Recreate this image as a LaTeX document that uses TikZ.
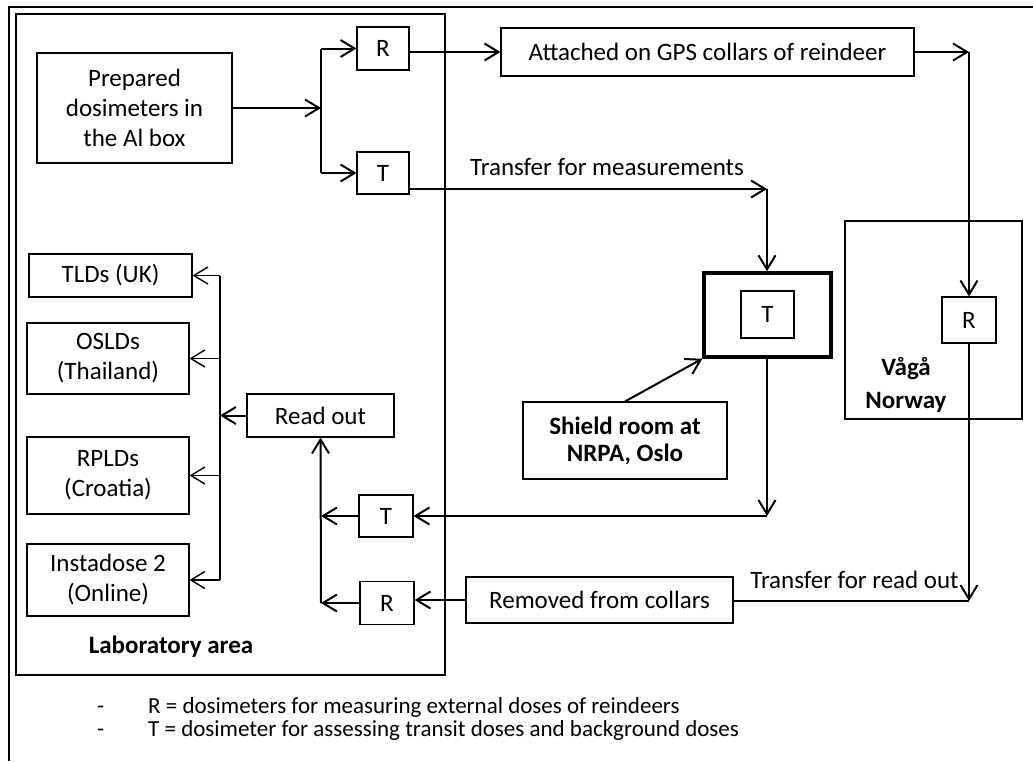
\documentclass[tikz,border=0pt]{standalone}
\usepackage{fontspec}
\setmainfont{Carlito}
\usetikzlibrary{arrows.meta}
\begin{document}
\begin{tikzpicture}[x=1pt,y=-1pt,
  font=\fontsize{25}{30}\selectfont,
  bx/.style={draw, line width=1.1pt, inner sep=0pt, align=center},
  frame/.style={line width=2pt},
  conn/.style={line width=2pt},
  thinconn/.style={line width=1.4pt},
  arr/.style={conn, -{Straight Barb[length=14pt,width=17pt]}},
  arrthin/.style={thinconn, -{Straight Barb[length=14pt,width=17pt]}},
  lbl/.style={inner sep=0pt, align=center},
  legend/.style={inner sep=0pt, anchor=base west, font=\fontsize{23}{27}\selectfont}
]
\useasboundingbox (0,0) rectangle (1033,761);
% outer frame
\draw[frame] (1033,7) -- (9,7) -- (9,761);
% laboratory area
\node[draw, frame, minimum width=429pt, minimum height=661pt, inner sep=0pt] (lab) at (230.5,344.5) {};
\node[lbl, font=\fontsize{25}{30}\selectfont\bfseries] (labtxt) at (171,647) {Laboratory area};
% Norway area
\node[draw, frame, minimum width=177pt, minimum height=198pt, inner sep=0pt] (norway) at (933.5,320) {};
\node[lbl, font=\fontsize{25}{33}\selectfont\bfseries] (norwaytxt) at (906,385) {Vågå\\Norway};
% nodes
\node[bx, minimum width=195pt, minimum height=110pt] (prep) at (134.5,108) {Prepared\\dosimeters in\\the Al box};
\node[bx, minimum width=52pt, minimum height=43pt] (R1) at (383,48.5) {R};
\node[bx, minimum width=52pt, minimum height=42pt] (T1) at (383,173) {T};
\node[bx, minimum width=413pt, minimum height=48pt] (att) at (707.5,52) {Attached on GPS collars of reindeer};
\node[draw, line width=3.5pt, minimum width=127pt, minimum height=84pt, inner sep=0pt] (shield) at (767.5,315) {};
\node[bx, minimum width=53pt, minimum height=47pt] (T2) at (767.5,314.5) {T};
\node[bx, minimum width=204pt, minimum height=77pt, font=\fontsize{25}{27}\selectfont\bfseries] (shieldlbl) at (625,440.5) {Shield room at\\NRPA, Oslo};
\node[bx, minimum width=54pt, minimum height=46pt] (R2) at (969,320) {R};
\node[bx, minimum width=163pt, minimum height=43pt] (tld) at (110.5,275.5) {TLDs (UK)};
\node[bx, minimum width=162pt, minimum height=71pt] (osld) at (108,358.5) {OSLDs\\(Thailand)};
\node[bx, minimum width=162pt, minimum height=77pt] (rpld) at (108,475.5) {RPLDs\\(Croatia)};
\node[bx, minimum width=162pt, minimum height=72pt] (insta) at (108,580) {Instadose 2\\(Online)};
\node[bx, minimum width=147pt, minimum height=43pt] (readout) at (320.5,415.5) {Read out};
\node[bx, minimum width=54pt, minimum height=42pt] (T3) at (386,516) {T};
\node[bx, minimum width=54pt, minimum height=43pt] (R3) at (387,603) {R};
\node[bx, minimum width=267pt, minimum height=46pt] (rem) at (599.5,600) {Removed from collars};
% coordinates
\coordinate (J) at (321,108);
\coordinate (C1) at (767,189);
\coordinate (C2) at (767,516);
\coordinate (C3) at (969,52);
\coordinate (C4) at (969,601);
\coordinate (Vb) at (321,603);
\coordinate (L) at (220,415.5);
% connectors top
\draw[arr] (prep.east) -- (J);
\draw[conn] (J |- R1.west) -- (J |- T1.west);
\draw[arr] (J |- R1.west) -- (R1.west);
\draw[arr] (J |- T1.west) -- (T1.west);
\draw[arr] (R1.east |- att.west) -- (att.west);
\draw[arr] (att.east) -- (C3);
\draw[arr] (C3) -- (R2.north);
\draw[arr] (T1.east |- C1) -- (C1);
\node[lbl] (tmeas) at (607,167) {Transfer for measurements};
\draw[arr] (C1) -- (C1 |- shield.north);
\draw[arr] (shieldlbl.north) -- (shield.south west);
\draw[arr] (shield.south -| C2) -- (C2);
\draw[arr] (C2) -- (T3.east |- C2);
\draw[arr] (R2.south) -- (C4);
\draw[conn] (C4) -- (rem.east |- C4);
\node[lbl] (tread) at (854.5,580) {Transfer for read out};
\draw[arr] (rem.west) -- (R3.east |- rem.west);
\draw[arr] (R3.west) -- (Vb);
\draw[arr] (T3.west) -- (Vb |- T3.west);
\draw[arr] (Vb) -- (readout.south);
% read out fan
\draw[arr] (readout.west) -- (L);
\draw[thinconn] (L |- tld.east) -- (L |- insta.east);
\draw[arrthin] (L |- tld.east) -- (tld.east);
\draw[arrthin] (L |- osld.east) -- (osld.east);
\draw[arrthin] (L |- rpld.east) -- (rpld.east);
\draw[arrthin] (L |- insta.east) -- (insta.east);
% legend
\node[legend] (d1) at (97,713) {-};
\node[legend] (leg1) at (148,713) {R = dosimeters for measuring external doses of reindeers};
\node[legend] (d2) at (97,736) {-};
\node[legend] (leg2) at (148,736) {T = dosimeter for assessing transit doses and background doses};
\end{tikzpicture}
\end{document}
